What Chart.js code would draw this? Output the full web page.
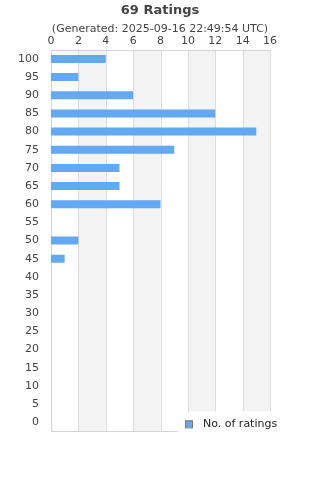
<!DOCTYPE html>
<html><head><meta charset="utf-8">
<script src="https://cdn.jsdelivr.net/npm/chart.js@4/dist/chart.umd.min.js"></script>
<style>html,body{margin:0;padding:0;background:#fff}#wrap{width:320px;height:450px;position:relative}</style>
</head><body><div id="wrap"><canvas id="c"></canvas></div>
<script>
const categories = ['100','95','90','85','80','75','70','65','60','55','50','45','40','35','30','25','20','15','10','5','0'];
const ratingCounts = [4,2,6,12,15,9,5,5,8,0,2,1,0,0,0,0,0,0,0,0,0];
const xTicks = [0,2,4,6,8,10,12,14,16];
const titleText = '69 Ratings';
const subtitleText = '(Generated: 2025-09-16 22:49:54 UTC)';
const seriesLabel = 'No. of ratings';

const FONT = "'DejaVu Sans', sans-serif";
const barColor = '#62a8f2';

const bandsPlugin = {
  id: 'bands',
  beforeDatasetsDraw(chart) {
    const {ctx, chartArea: a, scales: {x}} = chart;
    ctx.save();
    ctx.fillStyle = '#f3f3f3';
    for (let i = 1; i < xTicks.length; i += 2) {
      const l = x.getPixelForValue(xTicks[i]);
      const r = x.getPixelForValue(xTicks[i + 1]);
      ctx.fillRect(l, a.top, r - l, a.bottom - a.top);
    }
    ctx.strokeStyle = '#dddddd';
    ctx.lineWidth = 1;
    for (const v of xTicks) {
      const px = Math.round(x.getPixelForValue(v)) + 0.5;
      ctx.beginPath(); ctx.moveTo(px, a.top); ctx.lineTo(px, a.bottom); ctx.stroke();
    }
    ctx.strokeStyle = '#d4d4d4';
    ctx.beginPath();
    ctx.moveTo(a.left, Math.round(a.top) + 0.5); ctx.lineTo(a.right, Math.round(a.top) + 0.5);
    ctx.moveTo(a.left, Math.round(a.bottom) + 0.5); ctx.lineTo(a.right, Math.round(a.bottom) + 0.5);
    ctx.moveTo(Math.round(a.left) + 0.5, a.top); ctx.lineTo(Math.round(a.left) + 0.5, a.bottom);
    ctx.stroke();
    ctx.restore();
  }
};

const legendPlugin = {
  id: 'cornerLegend',
  afterDraw(chart) {
    const {ctx, chartArea: a} = chart;
    const ds = chart.data.datasets[0];
    ctx.save();
    ctx.fillStyle = '#ffffff';
    ctx.fillRect(178, a.bottom - 20, chart.width - 178, 24);
    const by = a.bottom - 11;
    ctx.fillStyle = ds.backgroundColor;
    ctx.fillRect(185.5, by, 7, 7);
    ctx.strokeStyle = '#777777';
    ctx.lineWidth = 1;
    ctx.strokeRect(185.5, by + 0.5, 7, 7);
    ctx.fillStyle = '#222222';
    ctx.font = '11px ' + FONT;
    ctx.textBaseline = 'middle';
    ctx.textAlign = 'left';
    ctx.fillText(ds.label, 203, by + 4);
    ctx.restore();
  }
};

new Chart(document.getElementById('c'), {
  type: 'bar',
  data: {
    labels: categories,
    datasets: [{
      label: seriesLabel,
      data: ratingCounts,
      backgroundColor: barColor,
      borderWidth: 0,
      barPercentage: 0.44,
      categoryPercentage: 1
    }]
  },
  options: {
    indexAxis: 'y',
    responsive: true,
    maintainAspectRatio: false,
    animation: false,
    layout: { padding: { left: 0, right: 0, top: 0, bottom: 0 } },
    plugins: {
      legend: { display: false },
      tooltip: { enabled: false },
      title: {
        display: true, text: titleText, color: '#444444',
        font: { family: FONT, size: 13, weight: 'bold' },
        padding: { top: 3, bottom: 2 }
      },
      subtitle: {
        display: true, text: subtitleText, color: '#444444',
        font: { family: FONT, size: 11 },
        padding: { top: 2, bottom: 0 }
      }
    },
    scales: {
      x: {
        position: 'top', min: 0, max: 16,
        afterBuildTicks(s) { s.ticks = xTicks.map(v => ({value: v})); },
        afterFit(s) { s.height = 14; },
        grid: { display: false, drawTicks: false },
        border: { display: false },
        ticks: { color: '#444444', font: { family: FONT, size: 11 }, padding: 2, maxRotation: 0, autoSkip: false }
      },
      y: {
        afterFit(s) { s.width = 51; },
        grid: { display: false, drawTicks: false },
        border: { display: false },
        ticks: { color: '#444444', font: { family: FONT, size: 11 }, padding: 12, autoSkip: false }
      },
      yRight: {
        type: 'category', position: 'right', axis: 'y',
        afterFit(s) { s.width = 50; },
        grid: { display: false, drawTicks: false },
        border: { display: false },
        ticks: { display: false }
      }
    }
  },
  plugins: [bandsPlugin, legendPlugin]
});
</script>
</body></html>
